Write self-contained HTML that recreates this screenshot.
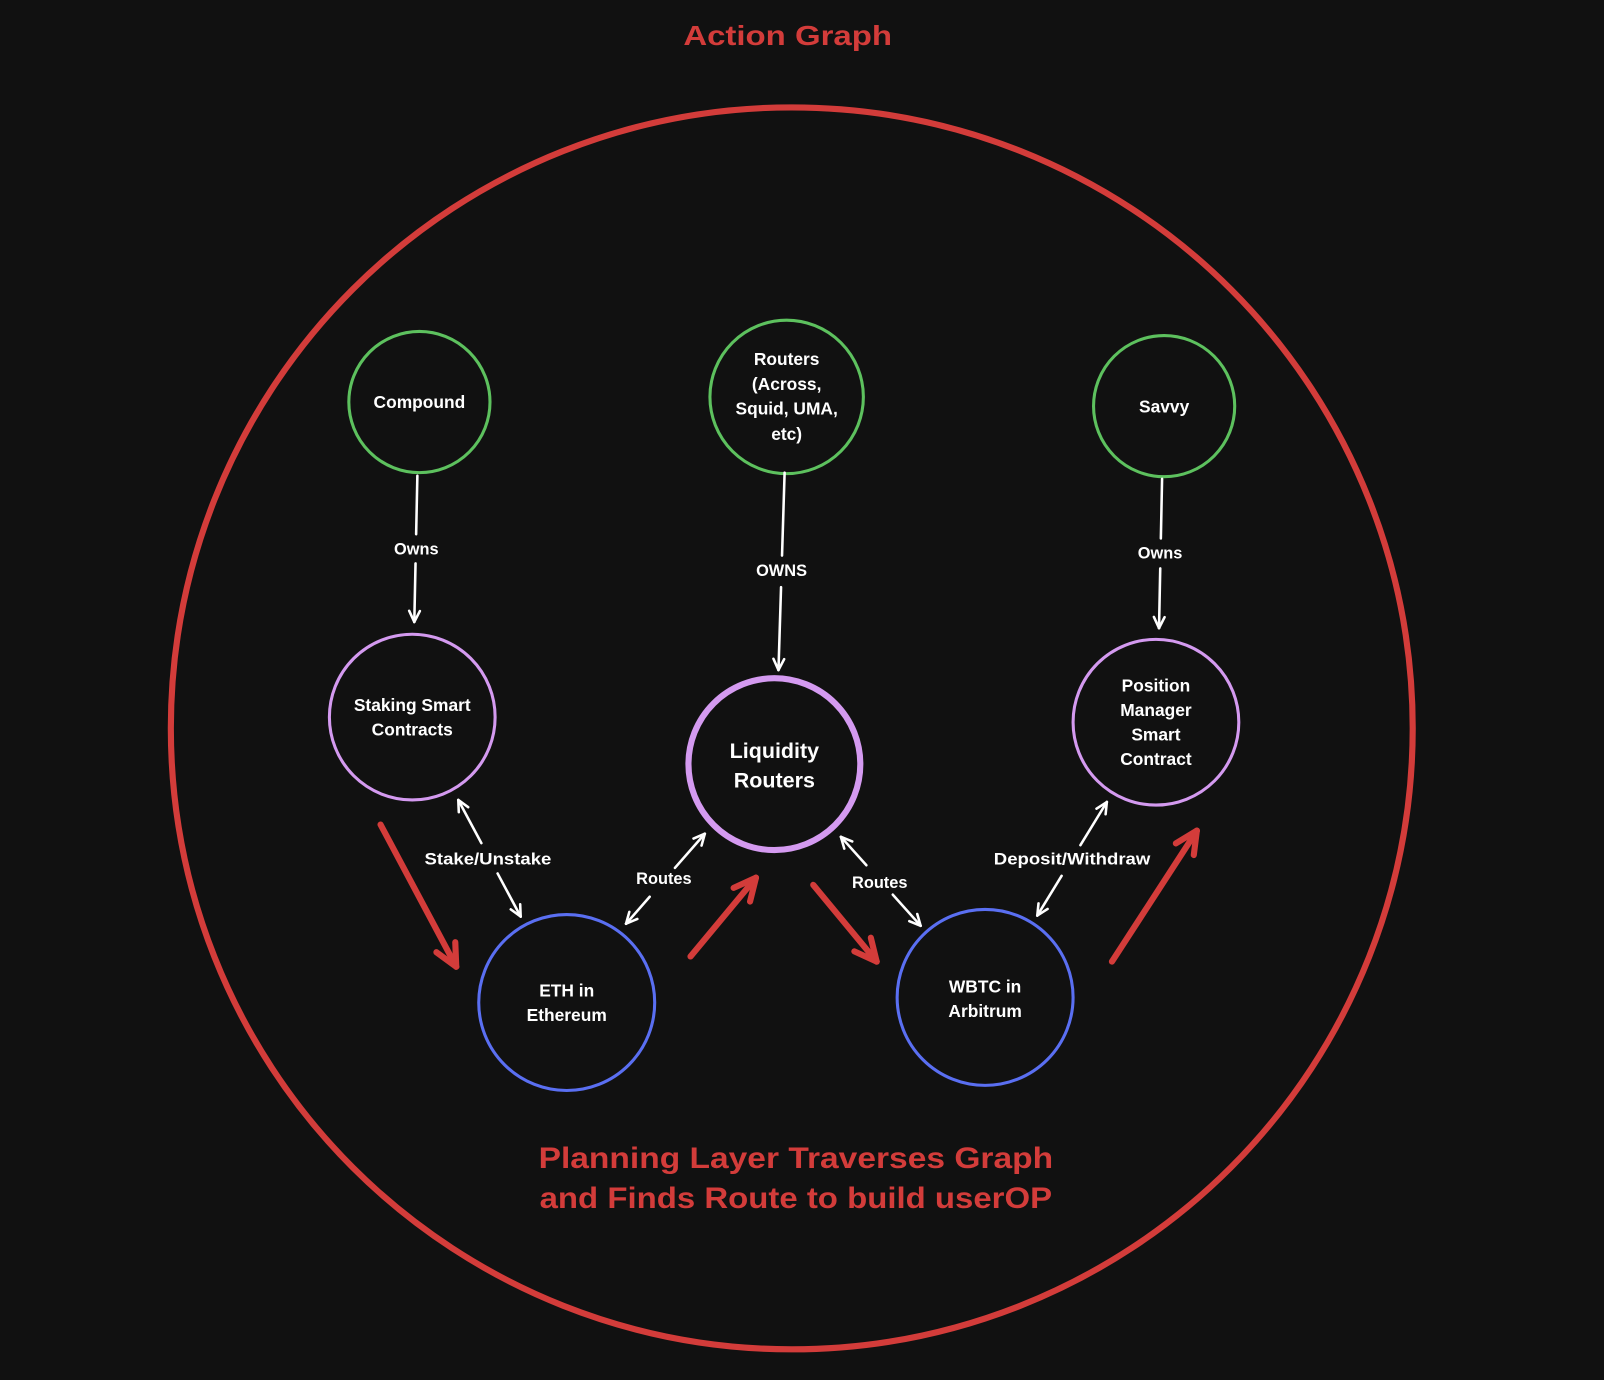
<!DOCTYPE html>
<html><head><meta charset="utf-8"><style>
html,body{margin:0;padding:0;background:#111111;}
svg{display:block;}
text{font-family:"Liberation Sans","DejaVu Sans",sans-serif;fill:#ffffff;text-anchor:middle;font-weight:bold;}
</style></head><body>
<svg id="s" width="1604" height="1380" viewBox="0 0 1568 1349" preserveAspectRatio="none" xmlns="http://www.w3.org/2000/svg">
<rect width="1568" height="1349" fill="#111111"/>
<circle cx="774" cy="712" r="607" fill="none" stroke="#d33c3a" stroke-width="6"/>
<text x="770" y="44" font-size="27" textLength="204" lengthAdjust="spacingAndGlyphs" style="fill:#d33c3a">Action Graph</text>
<g fill="none" stroke-width="3">
<circle cx="410" cy="393" r="69" stroke="#5dc15e"/>
<circle cx="769" cy="388" r="75" stroke="#5dc15e"/>
<circle cx="1138" cy="397" r="69" stroke="#5dc15e"/>
<circle cx="403" cy="701" r="81" stroke="#d49af0"/>
<circle cx="757" cy="747" r="84" stroke="#d49af0" stroke-width="6"/>
<circle cx="1130" cy="706" r="81" stroke="#d49af0"/>
<circle cx="554" cy="980" r="86" stroke="#5a6ff2"/>
<circle cx="963" cy="975" r="86" stroke="#5a6ff2"/>
</g>
<g id="arrows"></g>
<g font-size="17">
<text x="410" y="399">Compound</text>
<text x="769" y="357">Routers</text>
<text x="769" y="381">(Across,</text>
<text x="769" y="405">Squid, UMA,</text>
<text x="769" y="430">etc)</text>
<text x="1138" y="403">Savvy</text>
<text x="403" y="695">Staking Smart</text>
<text x="403" y="719">Contracts</text>
<text x="1130" y="676">Position</text>
<text x="1130" y="700">Manager</text>
<text x="1130" y="724">Smart</text>
<text x="1130" y="748">Contract</text>
<text x="554" y="974">ETH in</text>
<text x="554" y="998">Ethereum</text>
<text x="963" y="970">WBTC in</text>
<text x="963" y="994">Arbitrum</text>
<text x="757" y="741" font-size="21">Liquidity</text>
<text x="757" y="770" font-size="21">Routers</text>
</g>
<g font-size="16">
<text x="407" y="542">Owns</text>
<text x="764" y="563">OWNS</text>
<text x="1134" y="546">Owns</text>
<text x="477" y="845" textLength="124" lengthAdjust="spacingAndGlyphs">Stake/Unstake</text>
<text x="649" y="864">Routes</text>
<text x="860" y="868">Routes</text>
<text x="1048" y="845" textLength="153" lengthAdjust="spacingAndGlyphs">Deposit/Withdraw</text>
</g>
<text x="778" y="1142" font-size="29" textLength="503" lengthAdjust="spacingAndGlyphs" style="fill:#d33c3a">Planning Layer Traverses Graph</text>
<text x="778" y="1181" font-size="29" textLength="501" lengthAdjust="spacingAndGlyphs" style="fill:#d33c3a">and Finds Route to build userOP</text>
</svg>
<script>
var g=document.getElementById('arrows'),ns='http://www.w3.org/2000/svg';
function line(x1,y1,x2,y2,c,w){var l=document.createElementNS(ns,'path');l.setAttribute('d','M'+x1+' '+y1+'L'+x2+' '+y2);l.setAttribute('stroke',c);l.setAttribute('stroke-width',w);l.setAttribute('stroke-linecap','round');l.setAttribute('fill','none');g.appendChild(l);}
function head(x1,y1,x2,y2,c,w,s){var a=Math.atan2(y2-y1,x2-x1);for(var d of[-0.45,0.45]){line(x2,y2,x2-s*Math.cos(a+d),y2-s*Math.sin(a+d),c,w);}}
function arr(x1,y1,x2,y2,c,w,s,both){line(x1,y1,x2,y2,c,w);head(x1,y1,x2,y2,c,w,s);if(both)head(x2,y2,x1,y1,c,w,s);}
function garr(x1,y1,x2,y2,gs,ge,both){var dx=x2-x1,dy=y2-y1;line(x1,y1,x1+dx*gs,y1+dy*gs,'#fff',2.5);line(x1+dx*ge,y1+dy*ge,x2,y2,'#fff',2.5);head(x1,y1,x2,y2,'#fff',2.5,12);if(both)head(x2,y2,x1,y1,'#fff',2.5,12);}
garr(408,465,405,608,0.4,0.6,false);
garr(767,462,761,655,0.42,0.58,false);
garr(1136,468,1133,614,0.4,0.6,false);
garr(448,782,509,896,0.37,0.63,true);
garr(612,903,689,815,0.3,0.62,true);
garr(822,818,900,905,0.32,0.65,true);
garr(1014,895,1082,784,0.35,0.62,true);
arr(372,806,446,945,'#d33c3a',6,24);
arr(675,935,739,858,'#d33c3a',6,24);
arr(795,865,857,940,'#d33c3a',6,24);
arr(1087,940,1170,812,'#d33c3a',6,24);
</script>
</body></html>
